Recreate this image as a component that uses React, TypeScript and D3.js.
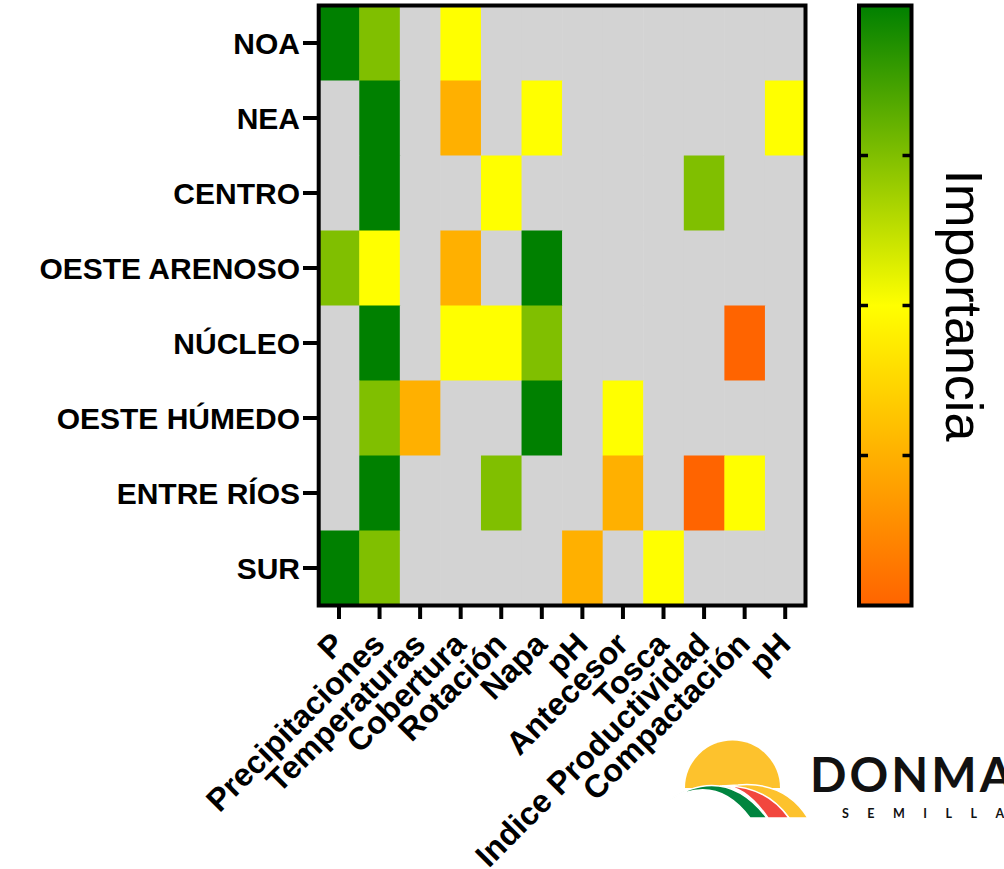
import React from "react";
import * as d3 from "d3";

const regions = ["NOA", "NEA", "CENTRO", "OESTE ARENOSO", "NÚCLEO", "OESTE HÚMEDO", "ENTRE RÍOS", "SUR"];
const factors = ["P", "Precipitaciones", "Temperaturas", "Cobertura", "Rotación", "Napa", "pH", "Antecesor", "Tosca", "Indice Productividad", "Compactación", "pH"];
// importance 1..5, null = not relevant (grey)
const rowNOA = [5, 4, null, 3, null, null, null, null, null, null, null, null];
const rowNEA = [null, 5, null, 2, null, 3, null, null, null, null, null, 3];
const rowCENTRO = [null, 5, null, null, 3, null, null, null, null, 4, null, null];
const rowOesteArenoso = [4, 3, null, 2, null, 5, null, null, null, null, null, null];
const rowNucleo = [null, 5, null, 3, 3, 4, null, null, null, null, 1, null];
const rowOesteHumedo = [null, 4, 2, null, null, 5, null, 3, null, null, null, null];
const rowEntreRios = [null, 5, null, null, 4, null, null, 2, null, 1, 3, null];
const rowSUR = [5, 4, null, null, null, null, 2, null, 3, null, null, null];
const importance = [rowNOA, rowNEA, rowCENTRO, rowOesteArenoso, rowNucleo, rowOesteHumedo, rowEntreRios, rowSUR];

const colorDomain = [1, 2, 3, 4, 5];
const colorRange = ["#FF6400", "#FFB000", "#FFFF00", "#80BF00", "#008000"];
const colorbarTicks = [2, 3, 4];
const colorbarTitle = "Importancia";

const FONT = "'Liberation Sans', Arial, Helvetica, sans-serif";
const LOGO_FONT = "Lato, 'Liberation Sans', sans-serif";

export default function App() {
  const W = 1004, H = 869;
  const left = 318.7, right = 805.5, top = 5.5, bottom = 605.5;
  const x = d3.scaleBand<number>().domain(factors.map((_, i) => i)).range([left, right]);
  const y = d3.scaleBand<string>().domain(regions).range([top, bottom]);
  const color = d3.scaleLinear<string>().domain(colorDomain).range(colorRange);

  const cbL = 859, cbR = 911.5;
  const cbY = d3.scaleLinear().domain([1, 5]).range([bottom, top]);

  const cells: JSX.Element[] = [];
  importance.forEach((row, ri) => {
    row.forEach((v, ci) => {
      cells.push(
        <rect key={`${ri}-${ci}`} x={x(ci)!} y={y(regions[ri])!} width={x.bandwidth() + 0.5} height={y.bandwidth() + 0.5}
          fill={v == null ? "#D3D3D3" : color(v)} />
      );
    });
  });

  return (
    <svg width={W} height={H} style={{ position: "absolute", left: 0, top: 0, background: "#fff" }} fontFamily={FONT}>
      <defs>
        <linearGradient id="cb" x1="0" y1="1" x2="0" y2="0">
          {colorDomain.map((d, i) => (
            <stop key={i} offset={`${((d - 1) / 4) * 100}%`} stopColor={colorRange[i]} />
          ))}
        </linearGradient>
      </defs>
      {cells}
      <rect x={left} y={top} width={right - left} height={bottom - top} fill="none" stroke="#000" strokeWidth={4} />
      {/* y axis */}
      {regions.map((r) => {
        const cy = y(r)! + y.bandwidth() / 2;
        return (
          <g key={r}>
            <line x1={303} x2={left} y1={cy} y2={cy} stroke="#000" strokeWidth={4} />
            <text x={300} y={cy} dy="0.36em" textAnchor="end" fontSize={30} fontWeight="bold">{r}</text>
          </g>
        );
      })}
      {/* x axis */}
      {factors.map((f, i) => {
        const cx = x(i)! + x.bandwidth() / 2;
        const ax = cx - 1, ay = 638;
        return (
          <g key={i}>
            <line x1={cx} x2={cx} y1={bottom} y2={619} stroke="#000" strokeWidth={4} />
            <text x={ax} y={ay} dy="0.36em" textAnchor="end" fontSize={32} fontWeight="bold"
              transform={`rotate(-45 ${ax} ${ay})`}>{f}</text>
          </g>
        );
      })}
      {/* colorbar */}
      <rect x={cbL} y={top} width={cbR - cbL} height={bottom - top} fill="url(#cb)" stroke="#000" strokeWidth={4} />
      {colorbarTicks.map((t) => (
        <g key={t}>
          <line x1={cbL} x2={cbL + 9} y1={cbY(t)} y2={cbY(t)} stroke="#000" strokeWidth={3.5} />
          <line x1={cbR - 9} x2={cbR} y1={cbY(t)} y2={cbY(t)} stroke="#000" strokeWidth={3.5} />
        </g>
      ))}
      <text x={946} y={(top + bottom) / 2} textAnchor="middle" fontSize={52}
        transform={`rotate(90 946 ${(top + bottom) / 2})`}>{colorbarTitle}</text>
      {/* logo */}
      <g>
        <path d="M 685 788 A 47.5 47.5 0 0 1 780 788 Z" fill="#FDC22D" />
        <path d="M 738 785 Q 785 781 808 818 L 789 818 Q 768 788 722 786 Z" fill="#FDC22D" stroke="#fff" strokeWidth={1.5} />
        <path d="M 720 786 Q 765 784 789 818 L 768 818 Q 745 784 720 786 Z" fill="#F2473E" stroke="#fff" strokeWidth={1.5} />
        <path d="M 667 801 Q 725 763 767 818 L 750 818 Q 716 772 667 801 Z" fill="#00853F" stroke="#fff" strokeWidth={1.5} />
        <text x={810} y={792} fontSize={48} fontWeight="bold" fill="#111" letterSpacing={3} fontFamily={LOGO_FONT}>DONMARIO</text>
        <text x={842} y={818} fontSize={12.5} fontWeight="bold" fill="#111" letterSpacing={18.5} fontFamily={LOGO_FONT}>SEMILLAS</text>
      </g>
    </svg>
  );
}
